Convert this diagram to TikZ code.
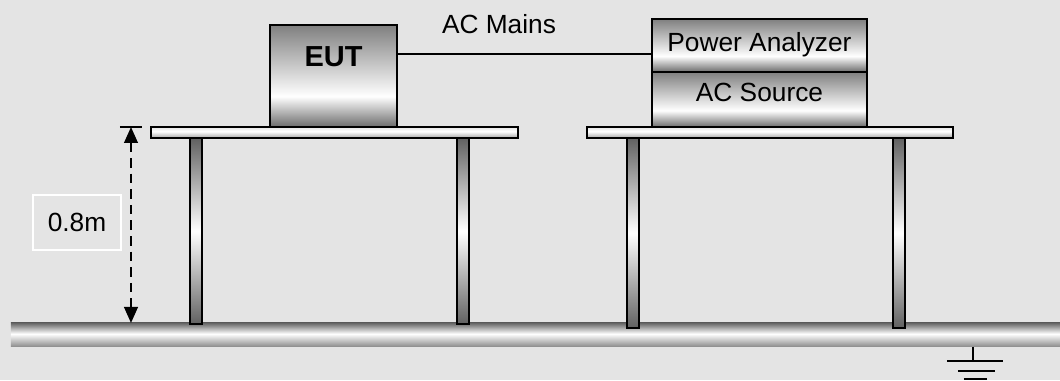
\documentclass[tikz,border=0pt]{standalone}
\usepackage{fontspec}
\setmainfont{Liberation Sans}
\usetikzlibrary{arrows.meta,positioning}
\definecolor{labgray}{HTML}{E4E4E4}
\pgfdeclareverticalshading{boxshade}{100bp}{color(0bp)=(black!58); color(25bp)=(black!58); color(40bp)=(white); color(75bp)=(black!50); color(100bp)=(black!50)}
\pgfdeclareverticalshading{legshade}{100bp}{color(0bp)=(black!62); color(25bp)=(black!62); color(50bp)=(white); color(75bp)=(black!62); color(100bp)=(black!62)}
\pgfdeclareverticalshading{topshade}{100bp}{color(0bp)=(black!35); color(25bp)=(black!35); color(55bp)=(white); color(75bp)=(black!10); color(100bp)=(black!10)}
\pgfdeclareverticalshading{floorshade}{100bp}{color(0bp)=(black!45); color(25bp)=(black!45); color(52bp)=(white); color(75bp)=(black!60); color(100bp)=(black!60)}
\tikzset{
  unit/.style={
    draw=black,
    line width=1.8pt,
    shade,
    shading=boxshade,
    minimum width=53.75mm,
    inner sep=0pt,
    outer sep=0pt
  },
  tabletop/.style={
    draw=black,
    line width=1.6pt,
    shade,
    shading=topshade,
    minimum width=91.6mm,
    minimum height=2.75mm,
    inner sep=0pt,
    outer sep=0pt
  },
  leg/.style={
    draw=black,
    line width=1.4pt,
    shade,
    shading=legshade
  },
  floor/.style={
    shade,
    shading=floorshade,
    minimum height=5.9mm,
    inner sep=0pt,
    outer sep=0pt
  },
  lbl/.style={
    font=\fontsize{18.7}{22}\selectfont,
    inner sep=0pt,
    outer sep=0pt
  },
  bigbold/.style={
    font=\fontsize{20.6}{24}\selectfont\bfseries,
    inner sep=0pt,
    outer sep=0pt
  },
  mains/.style={
    line width=1pt,
    draw=black
  },
  dim/.style={
    {Triangle[length=4mm,width=3.4mm]}-{Triangle[length=4mm,width=3.4mm]},
    dash pattern=on 2.4mm off 1.5mm,
    line width=1.6pt
  },
  tick/.style={
    line width=1pt
  },
  dimbox/.style={
    lbl,
    draw=white,
    line width=1pt,
    minimum width=22mm,
    minimum height=13.75mm
  },
  earth/.style={
    line width=1.8pt
  }
}
\begin{document}
\begin{tikzpicture}[x=0.25mm, y=-0.25mm]

\fill[labgray] (0,0) rectangle (1060,380);

% floor
\node[floor, minimum width=262.25mm, anchor=north west] (floor) at (11,323) {};

% equipment
\node[unit, minimum width=31.75mm, minimum height=25.5mm] (eut) at (333.5,76) {};
\node[bigbold, below=5.5mm of eut.north] (euttxt) {EUT};

\node[unit, minimum height=13.25mm] (pa) at (759.5,45.5) {};
\node[unit, minimum height=13.75mm, below=0pt of pa] (acs) {};
\node[lbl, below=3.4mm of pa.north] (patxt) {Power Analyzer};
\node[lbl, below=2.75mm of acs.north] (acstxt) {AC Source};

% tables
\node[tabletop, below=0pt of eut, xshift=0.25mm] (lefttop) {};
\node[tabletop, below=0pt of acs, xshift=2.6mm] (righttop) {};

\foreach \lx/\ly in {190/324, 457/324, 627/328, 893/328}
  \draw[leg] (\lx,138) rectangle (\lx+12,\ly);

% mains lead
\draw[mains] ([yshift=5.5mm]eut.east) -- ([yshift=5.5mm]eut.east -| pa.west)
  node[lbl, pos=0.4, above=5mm] (mainstxt) {AC Mains};

% height of the table
\coordinate (dimtop) at (lefttop.north west -| 131,0);
\draw[tick] ([xshift=-2.75mm]dimtop) -- ([xshift=2.75mm]dimtop);
\draw[dim] (dimtop) -- (dimtop |- floor.north);
\node[dimbox] (height) at (77,222.5) {0.8m};

% earth
\coordinate (earth) at (973,361);
\draw[earth] (floor.south -| earth) -- (earth);
\foreach \ey/\el/\er in {361/-26/30, 371/-15/22, 379/-9/14}
  \draw[earth] (973+\el,\ey) -- (973+\er,\ey);

\end{tikzpicture}
\end{document}
